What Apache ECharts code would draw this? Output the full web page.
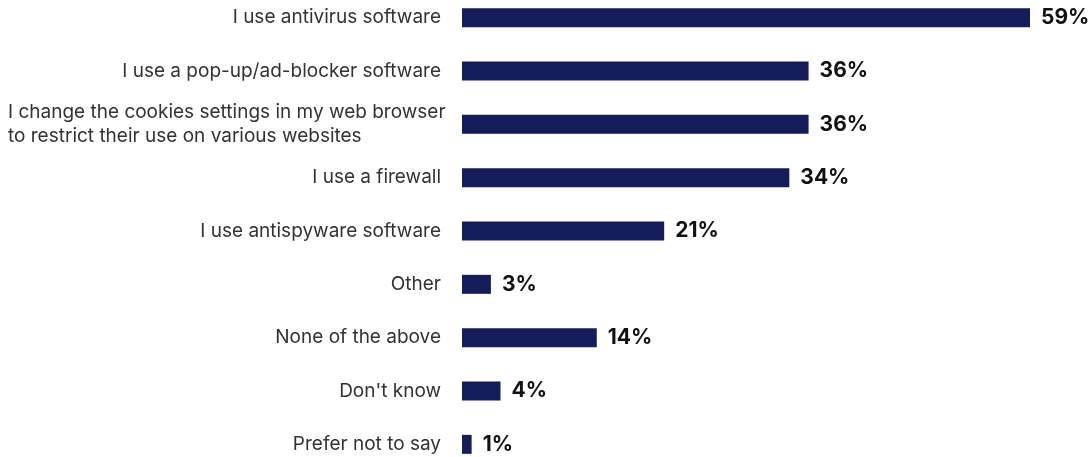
<!DOCTYPE html>
<html>
<head>
<meta charset="utf-8">
<script src="https://cdn.jsdelivr.net/npm/echarts@6/dist/echarts.min.js"></script>
<style>
  html, body { margin: 0; padding: 0; background: #ffffff; overflow: hidden; }
  #chart { position: relative; top: -9px; width: 1088px; height: 480px; }
</style>
</head>
<body>
<div id="chart"></div>
<script>
// Security measures, share of respondents (%)
const categories = [
  'I use antivirus software',
  'I use a pop-up/ad-blocker software',
  'I change the cookies settings in my web browser\nto restrict their use on various websites',
  'I use a firewall',
  'I use antispyware software',
  'Other',
  'None of the above',
  "Don't know",
  'Prefer not to say'
];
const values = [59, 36, 36, 34, 21, 3, 14, 4, 1];

const FONT = 'Inter, Roboto, "Noto Sans", sans-serif';

const chart = echarts.init(document.getElementById('chart'), null, { renderer: 'canvas' });

chart.setOption({
  animation: false,
  grid: { left: 462, right: 58, top: 0, bottom: 0, containLabel: false },
  xAxis: {
    type: 'value',
    min: 0,
    max: 59,
    show: false
  },
  yAxis: {
    type: 'category',
    inverse: true,
    data: categories,
    axisLine: { show: false },
    axisTick: { show: false },
    splitLine: { show: false },
    axisLabel: {
      margin: 21,
      fontFamily: FONT,
      fontSize: 19,
      color: '#333333',
      lineHeight: 24,
      formatter: function (v) {
        if (v.indexOf('\n') >= 0) {
          return v.split('\n').map(function (l) { return '{ml|' + l + '}'; }).join('\n');
        }
        return v;
      },
      rich: {
        ml: {
          width: 433,
          align: 'left',
          fontFamily: FONT,
          fontSize: 19,
          color: '#333333',
          lineHeight: 24
        }
      }
    }
  },
  series: [{
    type: 'bar',
    data: values,
    barWidth: 19,
    itemStyle: { color: '#151c5a' },
    label: {
      show: true,
      position: 'right',
      distance: 11,
      formatter: '{c}%',
      fontFamily: FONT,
      fontSize: 21,
      fontWeight: 'bold',
      color: '#111111'
    }
  }]
});
</script>
</body>
</html>
